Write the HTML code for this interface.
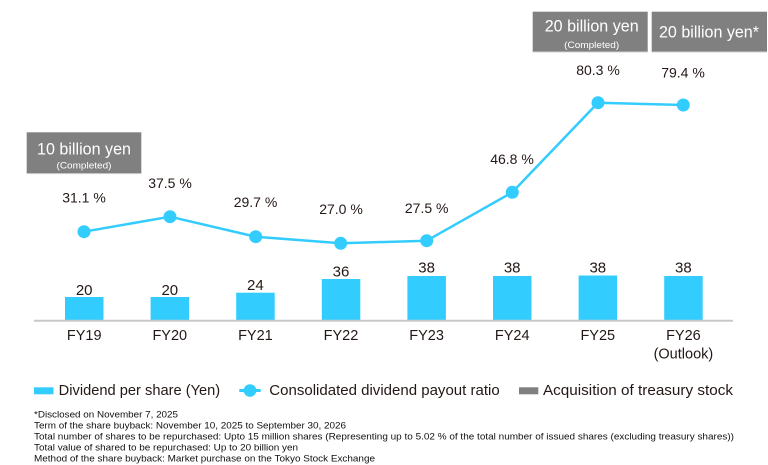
<!DOCTYPE html>
<html><head><meta charset="utf-8">
<style>
html,body{margin:0;padding:0;background:#fff;}
svg{display:block;}
text{font-family:"Liberation Sans",Arial,sans-serif;}
</style></head>
<body>
<svg width="768" height="465" viewBox="0 0 768 465" xmlns="http://www.w3.org/2000/svg">
<rect width="768" height="465" fill="#fff"/>

<!-- Buyback boxes -->
<rect x="26.7" y="132.3" width="114.6" height="41.7" fill="#808080"/>
<line x1="26.7" y1="173.6" x2="141.3" y2="173.6" stroke="#d0d0d0" stroke-width="1"/>
<text x="84" y="154.3" font-size="17" fill="#fff" text-anchor="middle" textLength="94" lengthAdjust="spacingAndGlyphs">10 billion yen</text>
<text x="84" y="168.5" font-size="9.5" fill="#fff" text-anchor="middle" textLength="55" lengthAdjust="spacingAndGlyphs">(Completed)</text>

<rect x="532.7" y="11.7" width="115" height="40.6" fill="#808080"/>
<line x1="532.7" y1="52" x2="647.7" y2="52" stroke="#d0d0d0" stroke-width="1"/>
<text x="591.7" y="31.7" font-size="17" fill="#fff" text-anchor="middle" textLength="94" lengthAdjust="spacingAndGlyphs">20 billion yen</text>
<text x="591.7" y="48" font-size="9.5" fill="#fff" text-anchor="middle" textLength="55" lengthAdjust="spacingAndGlyphs">(Completed)</text>

<rect x="651.7" y="11.7" width="115.3" height="40.6" fill="#808080"/>
<line x1="651.7" y1="52" x2="767" y2="52" stroke="#d0d0d0" stroke-width="1"/>
<text x="709" y="37.7" font-size="17" fill="#fff" text-anchor="middle" textLength="100" lengthAdjust="spacingAndGlyphs">20 billion yen*</text>

<!-- Bars -->
<g fill="#33ccff">
<rect x="65" y="297" width="38.5" height="23.5"/>
<rect x="150.6" y="297" width="38.5" height="23.5"/>
<rect x="236.2" y="292.7" width="38.5" height="27.8"/>
<rect x="321.8" y="279" width="38.5" height="41.5"/>
<rect x="407.4" y="276" width="38.5" height="44.5"/>
<rect x="493" y="276" width="38.5" height="44.5"/>
<rect x="578.6" y="275.5" width="38.5" height="45"/>
<rect x="664.2" y="276" width="38.5" height="44.5"/>
</g>
<line x1="34" y1="320.8" x2="733" y2="320.8" stroke="#c8c8c8" stroke-width="2"/>

<!-- Bar values -->
<g font-size="15" fill="#231815" text-anchor="middle">
<text x="84.2" y="295">20</text>
<text x="169.8" y="295">20</text>
<text x="255.4" y="290">24</text>
<text x="341" y="276.7">36</text>
<text x="426.6" y="272.7">38</text>
<text x="512.2" y="272.7">38</text>
<text x="597.8" y="272.7">38</text>
<text x="683.4" y="272.7">38</text>
</g>

<!-- X labels -->
<g font-size="14.5" fill="#231815" text-anchor="middle">
<text x="84.2" y="340">FY19</text>
<text x="169.8" y="340">FY20</text>
<text x="255.4" y="340">FY21</text>
<text x="341" y="340">FY22</text>
<text x="426.6" y="340">FY23</text>
<text x="512.2" y="340">FY24</text>
<text x="597.8" y="340">FY25</text>
<text x="683.4" y="340">FY26</text>
<text x="683.4" y="358.5">(Outlook)</text>
</g>

<!-- Line -->
<polyline points="84,231.7 170,216.7 255.7,236.7 340.7,243.3 426.7,240.7 512.3,192.3 598,102.7 683.3,105" fill="none" stroke="#33ccff" stroke-width="2.5" stroke-linejoin="round"/>
<g fill="#33ccff">
<circle cx="84" cy="231.7" r="6.5"/>
<circle cx="170" cy="216.7" r="6.5"/>
<circle cx="255.7" cy="236.7" r="6.5"/>
<circle cx="340.7" cy="243.3" r="6.5"/>
<circle cx="426.7" cy="240.7" r="6.5"/>
<circle cx="512.3" cy="192.3" r="6.5"/>
<circle cx="598" cy="102.7" r="6.5"/>
<circle cx="683.3" cy="105" r="6.5"/>
</g>

<!-- Percent labels -->
<g font-size="14" fill="#231815" text-anchor="middle">
<text x="84" y="202.7">31.1 %</text>
<text x="170" y="187.8">37.5 %</text>
<text x="255.5" y="207">29.7 %</text>
<text x="341" y="214">27.0 %</text>
<text x="426.7" y="213">27.5 %</text>
<text x="512" y="164">46.8 %</text>
<text x="598" y="75">80.3 %</text>
<text x="683" y="77.5">79.4 %</text>
</g>

<!-- Legend -->
<rect x="34" y="387.3" width="19.5" height="7" fill="#33ccff"/>
<text x="58.7" y="395" font-size="14.5" fill="#231815" textLength="161.5" lengthAdjust="spacingAndGlyphs">Dividend per share (Yen)</text>
<line x1="239.3" y1="390.5" x2="260.7" y2="390.5" stroke="#33ccff" stroke-width="3"/>
<circle cx="250" cy="390.5" r="6.3" fill="#33ccff"/>
<text x="269.3" y="395" font-size="14.5" fill="#231815" textLength="230.4" lengthAdjust="spacingAndGlyphs">Consolidated dividend payout ratio</text>
<rect x="519" y="387.3" width="19.3" height="7" fill="#808080"/>
<text x="543" y="395" font-size="14.5" fill="#231815" textLength="190" lengthAdjust="spacingAndGlyphs">Acquisition of treasury stock</text>

<!-- Footnotes -->
<g font-size="9.4" fill="#111">
<text x="34" y="417.5" textLength="144" lengthAdjust="spacingAndGlyphs">*Disclosed on November 7, 2025</text>
<text x="34" y="428.5" textLength="312" lengthAdjust="spacingAndGlyphs">Term of the share buyback: November 10, 2025 to September 30, 2026</text>
<text x="34" y="439.5" textLength="700" lengthAdjust="spacingAndGlyphs">Total number of shares to be repurchased: Upto 15 million shares (Representing up to 5.02 % of the total number of issued shares (excluding treasury shares))</text>
<text x="34" y="450.5" textLength="264" lengthAdjust="spacingAndGlyphs">Total value of shared to be repurchased: Up to 20 billion yen</text>
<text x="34" y="461.5" textLength="341" lengthAdjust="spacingAndGlyphs">Method of the share buyback: Market purchase on the Tokyo Stock Exchange</text>
</g>
</svg>
</body></html>
